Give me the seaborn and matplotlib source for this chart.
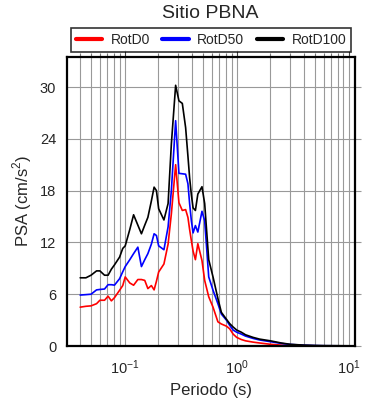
import numpy as np
import pandas as pd
import matplotlib
matplotlib.use("Agg")
import matplotlib.pyplot as plt
import seaborn as sns
from matplotlib.ticker import LogLocator, MultipleLocator, NullFormatter

# periods (s)
periodo = [0.04, 0.045, 0.05, 0.056, 0.06, 0.066, 0.071, 0.076, 0.081, 0.09,
           0.096, 0.101, 0.111, 0.12, 0.131, 0.141, 0.151, 0.161, 0.173, 0.183,
           0.192, 0.201, 0.224, 0.244, 0.261, 0.285, 0.305, 0.327, 0.35, 0.367,
           0.38, 0.394, 0.408, 0.428, 0.45, 0.49, 0.518, 0.563, 0.615, 0.68,
           0.73, 0.81, 0.866, 0.93, 1.0, 1.1, 1.2, 1.4, 1.6, 2.0,
           2.5, 3.0, 4.0, 5.0, 6.0, 8.0, 10.0]

rotd0 = [4.5, 4.6, 4.65, 4.9, 5.3, 5.3, 5.77, 5.23, 5.6, 6.46,
         7.0, 8.0, 7.3, 7.04, 7.7, 7.7, 7.6, 6.65, 7.0, 6.5,
         7.5, 8.57, 9.5, 11.8, 15.3, 21.0, 16.6, 15.7, 15.8, 14.9,
         13.5, 12.2, 11.0, 10.0, 11.85, 9.9, 7.6, 5.7, 4.5, 2.8,
         2.55, 2.3, 2.0, 1.38, 1.0, 0.75, 0.6, 0.45, 0.35, 0.2,
         0.1, 0.06, 0.03, 0.02, 0.01, 0.01, 0.01]

rotd50 = [5.9, 5.95, 6.0, 6.5, 6.55, 6.6, 7.1, 7.1, 7.05, 7.8,
          8.6, 9.2, 10.0, 10.7, 11.45, 9.2, 10.0, 10.7, 11.8, 13.0,
          12.8, 11.6, 11.15, 13.8, 18.0, 26.1, 20.0, 19.95, 19.9, 18.8,
          16.5, 14.5, 13.1, 13.95, 13.2, 15.6, 14.5, 8.0, 6.46, 4.9,
          3.7, 3.0, 2.4, 1.85, 1.6, 1.38, 1.15, 0.88, 0.7, 0.5,
          0.3, 0.18, 0.09, 0.05, 0.03, 0.02, 0.015]

rotd100 = [7.9, 7.9, 8.2, 8.7, 8.7, 8.2, 8.2, 8.9, 9.4, 10.3,
           11.3, 11.6, 13.5, 15.2, 14.0, 13.0, 14.0, 14.9, 16.8, 18.4,
           18.0, 15.9, 14.6, 16.5, 23.4, 30.2, 28.4, 28.1, 25.3, 22.0,
           19.5, 17.5, 16.0, 15.7, 17.6, 18.45, 16.5, 10.0, 8.0, 5.5,
           3.9, 3.1, 2.6, 2.2, 1.85, 1.6, 1.3, 1.0, 0.8, 0.6,
           0.35, 0.2, 0.1, 0.06, 0.04, 0.03, 0.02]

series = ["RotD0", "RotD50", "RotD100"]
colores = ["#ff0000", "#0000ff", "#000000"]

df = pd.DataFrame({"periodo": periodo, "RotD0": rotd0, "RotD50": rotd50, "RotD100": rotd100})
df = df.melt(id_vars="periodo", var_name="comp", value_name="psa")

sns.set_style("white")
plt.rcParams["font.family"] = ["Liberation Sans", "DejaVu Sans"]
plt.rcParams["mathtext.fontset"] = "custom"
plt.rcParams["mathtext.rm"] = "Liberation Sans"

fig = plt.figure(figsize=(3.9, 4.0), dpi=100)
ax = fig.add_axes([0.171, 0.135, 0.738, 0.723])

sns.lineplot(data=df, x="periodo", y="psa", hue="comp", hue_order=series,
             palette=colores, linewidth=1.2, ax=ax, legend=False)

ax.set_xscale("log")
ax.set_xlim(0.0303, 11.3)
ax.set_ylim(0, 33.5)

ax.xaxis.set_major_locator(LogLocator(base=10, numticks=10))
ax.xaxis.set_minor_locator(LogLocator(base=10, subs=np.arange(2, 10), numticks=20))
ax.xaxis.set_minor_formatter(NullFormatter())
ax.yaxis.set_major_locator(MultipleLocator(6))

ax.grid(True, which="both", axis="x", color="#999999", linewidth=0.8)
ax.grid(True, which="major", axis="y", color="#999999", linewidth=0.8)

ax.tick_params(axis="both", which="both", direction="out", labelsize=10.5,
               top=True, right=True, labeltop=False, labelright=False)
ax.tick_params(axis="x", which="major", length=5, width=0.8, color="#444444")
ax.tick_params(axis="x", which="minor", length=3, width=0.8, color="#777777")
ax.tick_params(axis="y", which="major", length=4, width=0.8, color="#999999")
ax.tick_params(axis="x", which="major", pad=4)

for s in ax.spines.values():
    s.set_linewidth(1.6)
    s.set_color("black")

ax.set_xlabel("Periodo (s)", fontsize=12, labelpad=4)
ax.set_ylabel("PSA (cm/s$^2$)", fontsize=12, labelpad=4)
fig.text(0.54, 0.965, "Sitio PBNA", ha="center", va="center", fontsize=14)

handles = [plt.Line2D([], [], color=c, linewidth=3) for c in colores]
leg = fig.legend(handles, series, loc="center", bbox_to_anchor=(0.541, 0.9),
                 ncol=3, frameon=True, fancybox=False, edgecolor="black",
                 fontsize=10, handlelength=1.9, columnspacing=0.9,
                 handletextpad=0.6, borderpad=0.35, borderaxespad=0)
leg.get_frame().set_linewidth(1.2)

fig.savefig("out.png", dpi=100)
